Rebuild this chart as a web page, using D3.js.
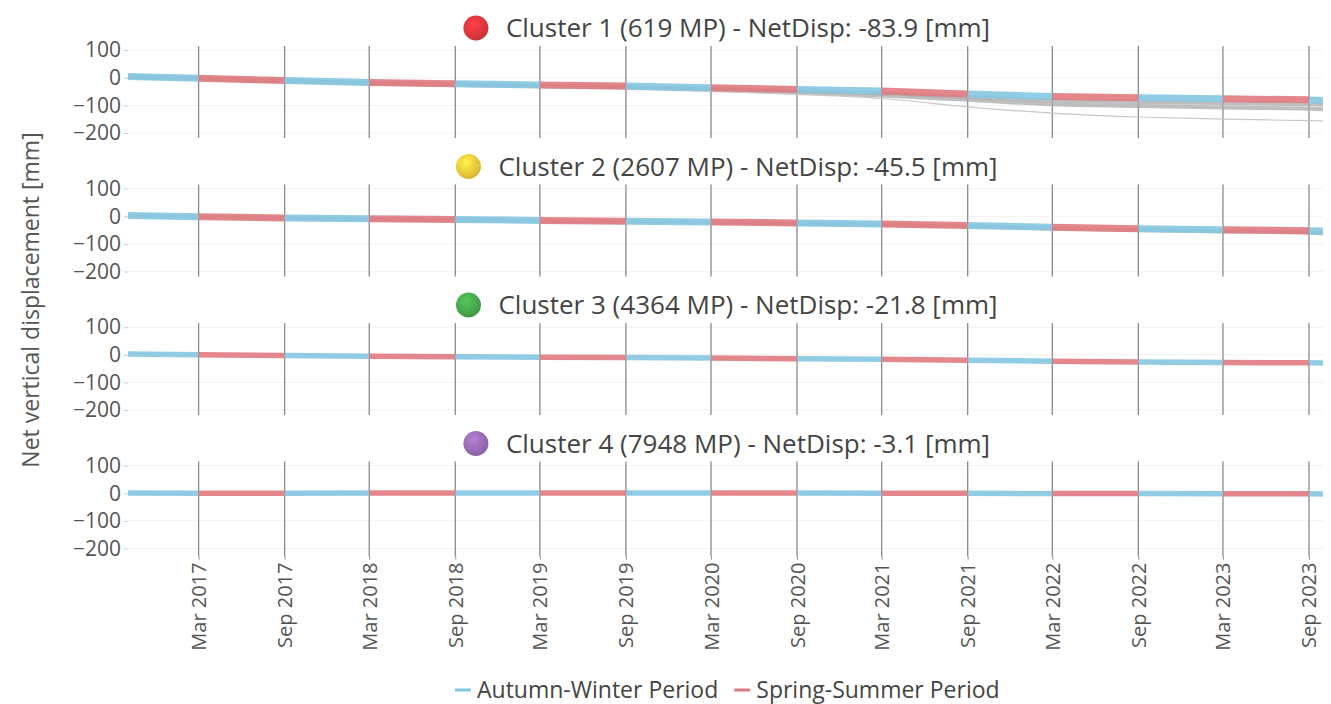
<!DOCTYPE html>
<html><head><meta charset="utf-8">
<script src="https://cdn.jsdelivr.net/npm/d3@7"></script>
<style>
body{margin:0;background:#fff;}
text{font-family:"Open Sans",sans-serif;}
</style></head>
<body><svg id="c" width="1331" height="704"></svg>
<script>
// breakpoints (season boundaries)
const dates = ["2016-10-01","2017-03-01","2017-09-01","2018-03-01","2018-09-01","2019-03-01","2019-09-01","2020-03-01","2020-09-01","2021-03-01","2021-09-01","2022-03-01","2022-09-01","2023-03-01","2023-09-01","2023-10-01"];
const clusterNames = ["Cluster 1 (619 MP) - NetDisp: -83.9 [mm]","Cluster 2 (2607 MP) - NetDisp: -45.5 [mm]","Cluster 3 (4364 MP) - NetDisp: -21.8 [mm]","Cluster 4 (7948 MP) - NetDisp: -3.1 [mm]"];
const clusterColors = ["#e3363c","#f1cb3a","#47a84c","#9a6cb4"];
const cluster1 = [5,-2,-10,-17,-22,-26,-30,-36,-42,-48,-59,-68,-72,-76,-80,-82];
const cluster2 = [3,-2,-6,-9,-12,-15,-18,-21,-24,-28,-33,-40,-45,-49,-52,-53];
const cluster3 = [3,0,-3,-5,-7,-9,-10,-12,-14,-16,-20,-23,-26,-28,-29,-30];
const cluster4 = [1,0,0,1,1,1,1,1,1,0,0,-1,-1,-2,-2,-3];
// individual MP lines behind cluster 1 and 2
const c1grey1 = [5,-3,-12,-19,-24,-29,-33,-40,-48,-56,-70,-82,-88,-92,-96,-98];
const c1grey2 = [5,-3,-12,-20,-26,-31,-36,-44,-54,-64,-80,-96,-102,-108,-112,-114];
const c1grey3 = [5,-3,-12,-20,-26,-32,-38,-48,-60,-75,-105,-128,-142,-150,-155,-156];
const c2grey1 = [3,-2,-6,-10,-13,-16,-19,-22,-26,-30,-36,-44,-50,-55,-60,-62];
const yTicks = [100,0,-100,-200];
const xTickDates = ["2017-03-01","2017-09-01","2018-03-01","2018-09-01","2019-03-01","2019-09-01","2020-03-01","2020-09-01","2021-03-01","2021-09-01","2022-03-01","2022-09-01","2023-03-01","2023-09-01"];
const legendItems = ["Autumn-Winter Period","Spring-Summer Period"];
const seriesColors = ["#85c6e2","#e07a80"];

const series = [cluster1,cluster2,cluster3,cluster4];
const greys = [[c1grey1,c1grey2,c1grey3],[c2grey1],[],[]];
const parse = d3.timeParse("%Y-%m-%d");
const D = dates.map(parse);
const svg = d3.select("#c");
const defs = svg.append("defs");
clusterColors.forEach((c,i)=>{
  const g = defs.append("radialGradient").attr("id","g"+i).attr("cx","40%").attr("cy","35%").attr("r","65%");
  g.append("stop").attr("offset","0%").attr("stop-color",d3.color(c).brighter(0.5));
  g.append("stop").attr("offset","100%").attr("stop-color",d3.color(c).darker(0.3));
});

const x = d3.scaleTime().domain([D[0],D[D.length-1]]).range([128,1323]);
const panelH = 92;
series.forEach((vals,i)=>{
  const top = 46 + 138.5*i;
  const y = d3.scaleLinear().domain([115,-218]).range([top, top+panelH]);
  const g = svg.append("g");
  g.selectAll(".hg").data(yTicks).join("line")
    .attr("x1",128).attr("x2",1323).attr("y1",d=>y(d)).attr("y2",d=>y(d))
    .attr("stroke","#f1f1f1").attr("stroke-width",1);
  const ya = g.append("g").attr("transform","translate(128,0)")
    .call(d3.axisLeft(y).tickValues(yTicks).tickSize(4).tickPadding(3));
  ya.select(".domain").remove();
  ya.selectAll(".tick line").attr("stroke","#ccc");
  ya.selectAll(".tick text").attr("fill","#555").style("font-size","21px");
  g.selectAll(".vl").data(xTickDates.map(parse)).join("line")
    .attr("x1",d=>x(d)).attr("x2",d=>x(d)).attr("y1",top).attr("y2",top+panelH + (i===3?3:0))
    .attr("stroke","#8a8a8a").attr("stroke-width",1.3);
  const line = d3.line().x((d,k)=>x(D[k])).y(d=>y(d)).curve(d3.curveMonotoneX);
  greys[i].forEach((gv,k)=>{
    g.append("path").attr("d",line(gv)).attr("fill","none")
      .attr("stroke", k===2?"#c8c8c8":"#a9a9a9").attr("stroke-width",k===2?1.2:4).attr("opacity",k===2?1:0.75);
  });
  for(let k=0;k<vals.length-1;k++){
    const seg = [[D[k],vals[k]],[D[k+1],vals[k+1]]];
    g.append("path").attr("d",d3.line().x(d=>x(d[0])).y(d=>y(d[1]))(seg))
      .attr("fill","none").attr("stroke",seriesColors[k%2===0?0:1])
      .attr("stroke-width",i<2?7:5.5).attr("stroke-linecap","butt").attr("opacity",0.9);
  }
  const ty = top - 18;
  const t = svg.append("text").attr("x",748).attr("y",ty).attr("dy","0.35em")
    .attr("text-anchor","middle").attr("fill","#444").style("font-size","26px").text(clusterNames[i]);
  const w = t.node().getComputedTextLength();
  svg.append("circle").attr("cx",748 - w/2 - 30).attr("cy",ty).attr("r",12.5).attr("fill","url(#g"+i+")");
  if(i===3){
    const xa = svg.append("g").attr("transform",`translate(0,${top+panelH+3})`)
      .call(d3.axisBottom(x).tickValues(xTickDates.map(parse)).tickFormat(d3.timeFormat("%b %Y")).tickSize(3));
    xa.select(".domain").remove();
    xa.selectAll(".tick line").attr("stroke","#8a8a8a");
    xa.selectAll(".tick text").attr("fill","#555").style("font-size","20px")
      .attr("transform","rotate(-90)").attr("text-anchor","end").attr("x",-6).attr("y",0).attr("dy","0.35em");
  }
});
svg.append("text").attr("transform","translate(31,300) rotate(-90)").attr("text-anchor","middle")
  .attr("dy","0.35em").attr("fill","#555").style("font-size","23px").text("Net vertical displacement [mm]");
const lg = svg.append("g").attr("transform","translate(455,690)");
let lx = 0;
legendItems.forEach((name,i)=>{
  lg.append("line").attr("x1",lx).attr("x2",lx+16).attr("y1",0).attr("y2",0).attr("stroke",seriesColors[i]).attr("stroke-width",3);
  const t = lg.append("text").attr("x",lx+22).attr("y",0).attr("dy","0.35em").attr("fill","#444").style("font-size","23px").text(name);
  lx += 22 + t.node().getComputedTextLength() + 16;
});
</script></body></html>
